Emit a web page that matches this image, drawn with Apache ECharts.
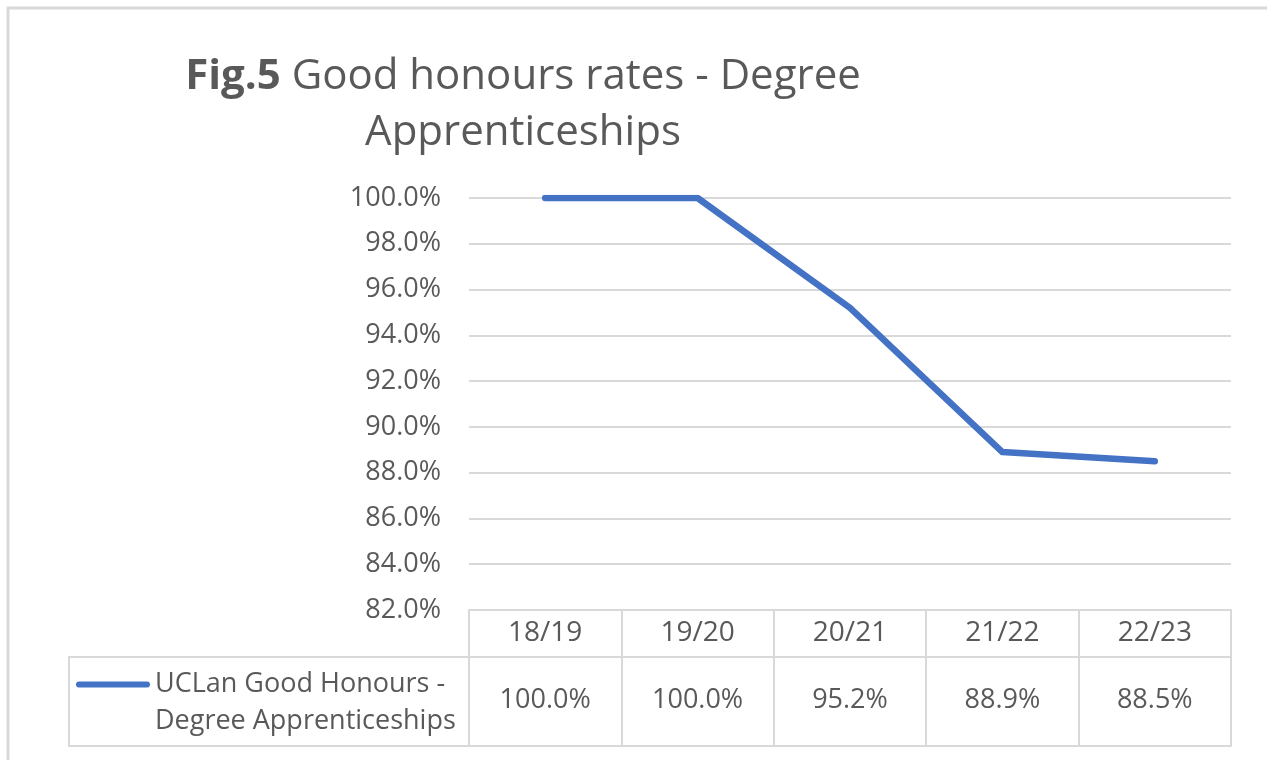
<!DOCTYPE html>
<html>
<head>
<meta charset="utf-8">
<script src="https://cdn.jsdelivr.net/npm/echarts@6/dist/echarts.min.js"></script>
<style>
  html, body { margin: 0; padding: 0; background: #fff; }
  #chart { width: 1267px; height: 760px; }
</style>
</head>
<body>
<div id="chart"></div>
<script>
// academic years on the x axis / table header
const years = ['18/19', '19/20', '20/21', '21/22', '22/23']
// good honours rate, as a fraction
const goodHonours = [1.0, 1.0, 0.952, 0.889, 0.885]
const seriesName = 'UCLan Good Honours -\nDegree Apprenticeships'

const pct = (v) => (v * 100).toFixed(1) + '%'
const FONT = 'Open Sans'
const TXT = '#595959'
const GRID_LINE = '#D9D9D9'
const BLUE = '#4472C4'

// rounded bar drawn at the top of a taller box, so it sits level with the first legend line
const LEGEND_ICON = 'path://M3,0 L71,0 A3,3 0 0 1 71,6 L3,6 A3,3 0 0 1 3,0 Z M0,43 L0,43'

const chart = echarts.init(document.getElementById('chart'))

const option = {
  animation: false,
  textStyle: {fontFamily: FONT, color: TXT},
  title: {
    left: 518,
    top: 44,
    textAlign: 'center',
    text: '{b|Fig.5}{n| Good honours rates - Degree}\n{n|Apprenticeships}',
    textStyle: {
      fontWeight: 'normal',
      rich: {
        b: {fontFamily: FONT, fontSize: 42, fontWeight: 'bold', color: TXT, lineHeight: 56},
        n: {fontFamily: FONT, fontSize: 42, fontWeight: 'normal', color: TXT, lineHeight: 56}
      }
    }
  },
  legend: {
    left: 76,
    top: 666,
    padding: 0,
    icon: LEGEND_ICON,
    itemWidth: 74,
    itemHeight: 43,
    textStyle: {fontFamily: FONT, fontSize: 27, color: TXT, lineHeight: 37},
    data: [seriesName]
  },
  grid: {left: 469, right: 36, top: 198, bottom: 150, containLabel: false},
  xAxis: [
    {
      type: 'category',
      data: years,
      boundaryGap: true,
      axisLine: {show: true, lineStyle: {color: GRID_LINE, width: 2}},
      axisTick: {show: true, length: 136, lineStyle: {color: GRID_LINE, width: 2}},
      axisLabel: {fontFamily: FONT, fontSize: 28, color: TXT, margin: 9}
    },
    {
      type: 'category',
      data: years,
      position: 'bottom',
      offset: 47,
      boundaryGap: true,
      axisLine: {show: true, lineStyle: {color: GRID_LINE, width: 2}},
      axisTick: {show: false},
      axisLabel: {
        fontFamily: FONT, fontSize: 27, color: TXT, margin: 30,
        formatter: (v, i) => pct(goodHonours[i])
      }
    },
    {
      type: 'category',
      data: years,
      position: 'bottom',
      offset: 136,
      boundaryGap: true,
      axisLine: {show: true, lineStyle: {color: GRID_LINE, width: 2}},
      axisTick: {show: false},
      axisLabel: {show: false}
    }
  ],
  yAxis: {
    type: 'value',
    min: 0.82,
    max: 1.0,
    interval: 0.02,
    axisLine: {show: false},
    axisTick: {show: false},
    splitLine: {lineStyle: {color: GRID_LINE, width: 2}},
    axisLabel: {fontFamily: FONT, fontSize: 27, color: TXT, margin: 28, formatter: (v) => pct(v)}
  },
  series: [
    {
      name: seriesName,
      type: 'line',
      xAxisIndex: 0,
      data: goodHonours,
      showSymbol: false,
      symbol: 'none',
      lineStyle: {color: BLUE, width: 6.5, cap: 'round', join: 'round'},
      itemStyle: {color: BLUE}
    }
  ],
  graphic: [
    // outer chart frame (only top/left edges visible in the crop)
    {type: 'rect', shape: {x: 8, y: 8, width: 1400, height: 900}, style: {fill: 'none', stroke: GRID_LINE, lineWidth: 3}, silent: true},
    // legend cell of the data table
    {type: 'polyline', shape: {points: [[469, 657], [69, 657], [69, 746], [469, 746]]}, style: {fill: 'none', stroke: GRID_LINE, lineWidth: 2}, silent: true}
  ]
}

chart.setOption(option)
</script>
</body>
</html>
